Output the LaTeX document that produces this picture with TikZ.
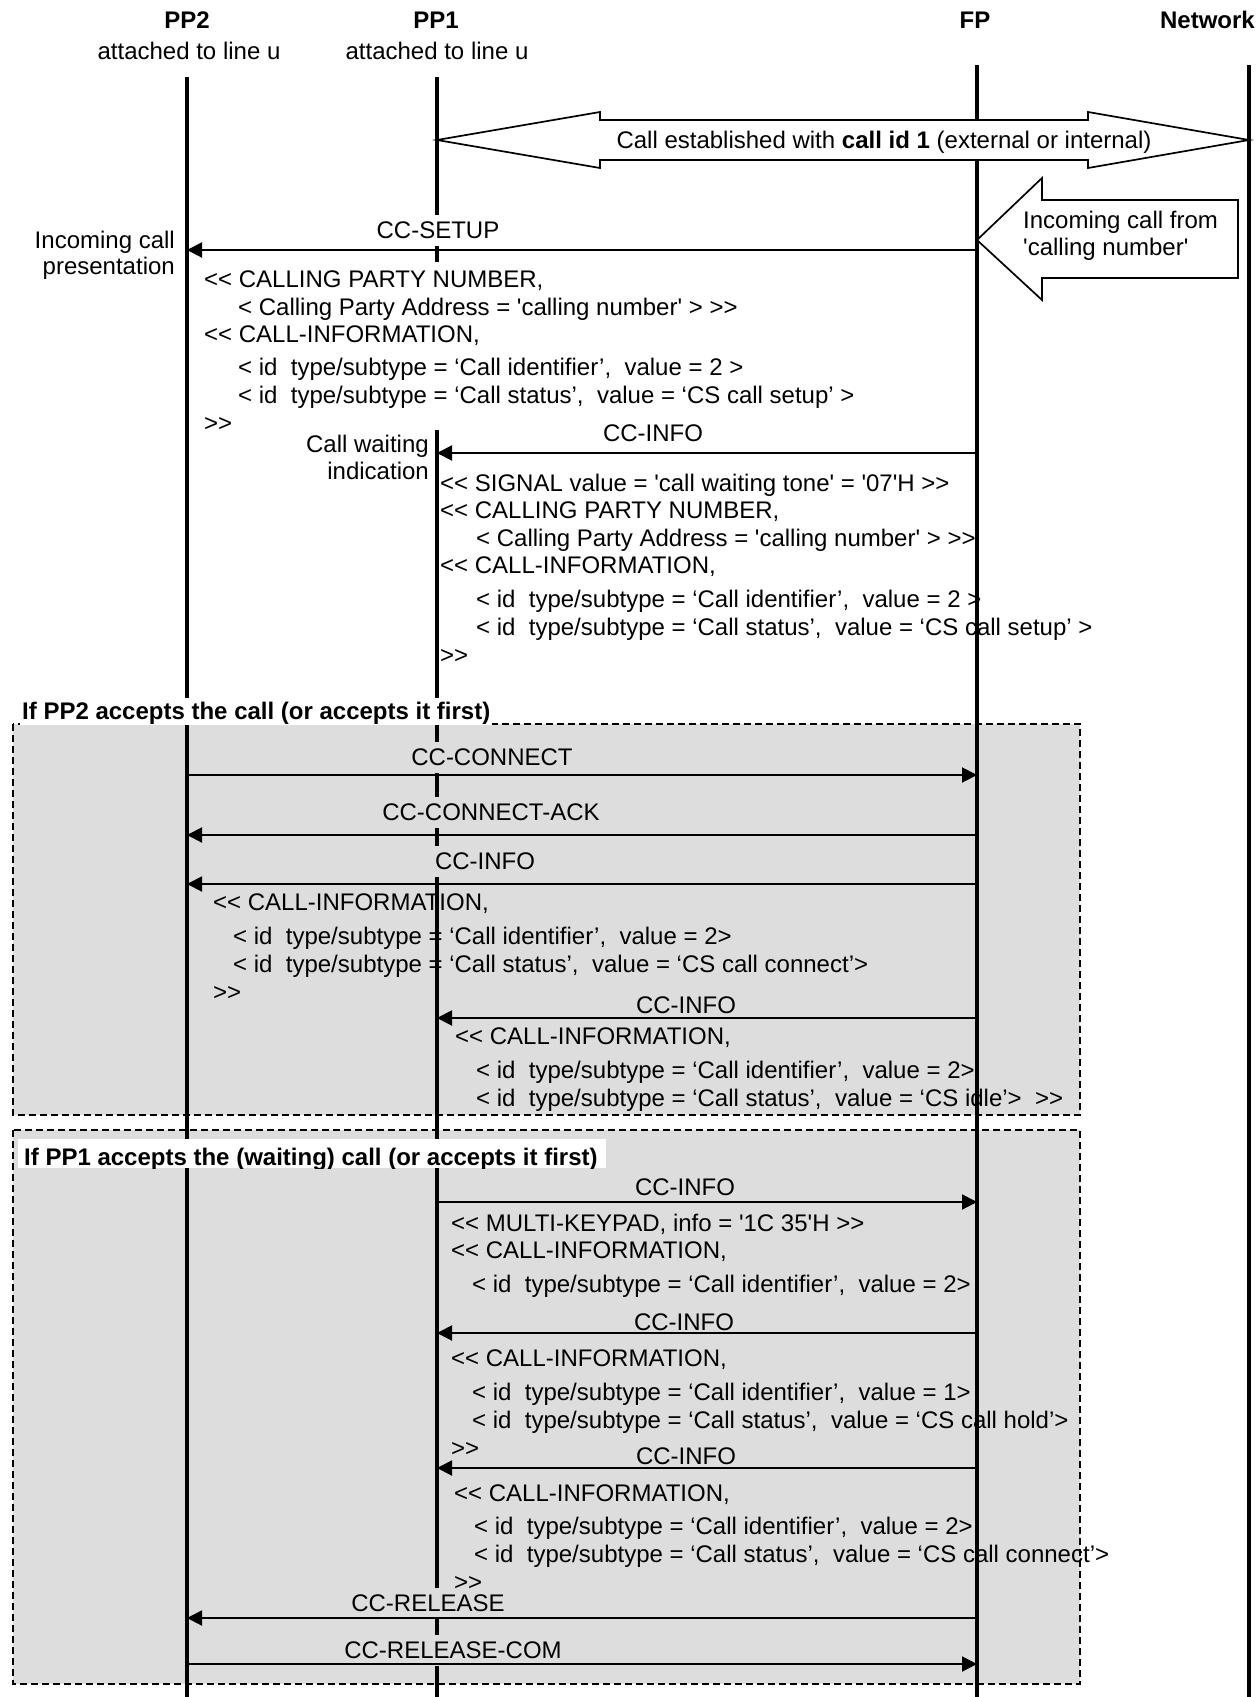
\documentclass[tikz,border=0pt]{standalone}
\usepackage{fontspec}
\setmainfont{Liberation Sans}[Ligatures=TeXOff]
\usetikzlibrary{arrows.meta}
\definecolor{boxgray}{RGB}{221,221,221}
\begin{document}
\begin{tikzpicture}[x=1pt,y=-1pt,
  every node/.style={font=\fontsize{24}{28}\selectfont, inner sep=0pt, text height=17pt, text depth=0pt},
  life/.style={line width=3.3pt},
  msg/.style={line width=2pt, -{Triangle[length=15pt,width=15pt]}},
  hdr/.style={font=\fontsize{24}{28}\selectfont\bfseries},
  txt/.style={anchor=west},
  rtxt/.style={anchor=east},
  lblw/.style={fill=white, inner xsep=8pt, inner ysep=7pt},
  lblg/.style={fill=boxgray, inner xsep=8pt, inner ysep=7pt},
  grp/.style={fill=boxgray, draw=black, line width=1.5pt, dash pattern=on 7pt off 4pt},
  fat/.style={fill=white, draw=black, line width=1.7pt, line join=miter}
]
% canvas
\fill[white] (0,0) rectangle (1258,1697);
\useasboundingbox (0,0) rectangle (1258,1697);

% group boxes
\draw[grp] (13,724) rectangle (1080,1115);
\draw[grp] (13,1130) rectangle (1080,1684);

% lifeline anchors
\coordinate (L2) at (187,77);
\coordinate (L1) at (437,77);
\coordinate (LF) at (977,65);
\coordinate (LN) at (1249,65);
\coordinate (B2) at (187,1697);
\coordinate (B1) at (437,1697);
\coordinate (BF) at (977,1697);
\coordinate (BN) at (1249,1697);
\draw[life] (L2) -- (B2);
\draw[life] (L1) -- (B1);
\draw[life] (LF) -- (BF);
\draw[life] (LN) -- (BN);

% headers
\node[hdr] (h2) at (187,20) {PP2};
\node (a2) at (189,51) {attached to line u};
\node[hdr] (h1) at (436,20) {PP1};
\node (a1) at (437,51) {attached to line u};
\node[hdr] (hf) at (975,20) {FP};
\node[hdr,anchor=east] (hn) at (1255,20) {Network};

% call established double arrow
\draw[fat] (L1 |- 0,140) -- (600,112) -- (600,120) -- (1088,120) -- (1088,112)
  -- (LN |- 0,140) -- (1088,168) -- (1088,160) -- (600,160) -- (600,168) -- cycle;
\node (est) at (884,140) {Call established with \textbf{call id 1} (external or internal)};

% incoming call block arrow
\draw[fat] (LF |- 0,240) -- (1042,178) -- (1042,200) -- (1238,200) -- (1238,278)
  -- (1042,278) -- (1042,300) -- cycle;
\node[txt] (inc1) at (1023,220) {Incoming call from};
\node[txt] (inc2) at (1023,247) {'calling number'};

% group labels
\node[txt,fill=white,inner xsep=2pt,inner ysep=5pt] (g1) at (20,711) {\bfseries If PP2 accepts the call (or accepts it first)};
\fill[white] (18,1139) rectangle (606,1168);
\begin{scope}
\clip (18,1139) rectangle (606,1168);
\node[txt] (g2) at (24,1157) {\bfseries If PP1 accepts the (waiting) call (or accepts it first)};
\end{scope}

% white area behind first parameter block
\fill[white] (200,262) rectangle (860,430);

% message labels
\node[lblw] (m1) at (438,230) {CC-SETUP};
\node[lblw] (m2) at (653,433) {CC-INFO};
\node[lblg] (m3) at (492,757) {CC-CONNECT};
\node[lblg] (m4) at (491,812) {CC-CONNECT-ACK};
\node[lblg] (m5) at (485,861) {CC-INFO};
\node[lblg] (m6) at (686,1005) {CC-INFO};
\node[lblg] (m7) at (685,1187) {CC-INFO};
\node[lblg] (m8) at (684,1322) {CC-INFO};
\node[lblg] (m9) at (686,1456) {CC-INFO};
\node[lblg] (m10) at (428,1603) {CC-RELEASE};
\node[lblg] (m11) at (453,1650) {CC-RELEASE-COM};

% messages
\draw[msg] (LF |- 0,250) -- (L2 |- 0,250);
\draw[msg] (LF |- 0,453) -- (L1 |- 0,453);
\draw[msg] (L2 |- 0,775) -- (LF |- 0,775);
\draw[msg] (LF |- 0,835) -- (L2 |- 0,835);
\draw[msg] (LF |- 0,884) -- (L2 |- 0,884);
\draw[msg] (LF |- 0,1018) -- (L1 |- 0,1018);
\draw[msg] (L1 |- 0,1202) -- (LF |- 0,1202);
\draw[msg] (LF |- 0,1333) -- (L1 |- 0,1333);
\draw[msg] (LF |- 0,1468) -- (L1 |- 0,1468);
\draw[msg] (LF |- 0,1618) -- (L2 |- 0,1618);
\draw[msg] (L2 |- 0,1664) -- (LF |- 0,1664);

% side notes
\node[rtxt] (n1) at (175,240) {Incoming call};
\node[rtxt] (n2) at (175,266) {presentation};
\node[rtxt] (n3) at (429,444) {Call waiting};
\node[rtxt] (n4) at (429,471) {indication};

% parameter block 1
\node[txt] (b1a) at (204,279) {<< CALLING PARTY NUMBER,};
\node[txt] (b1b) at (238,307) {< Calling Party Address = 'calling number' > >>};
\node[txt] (b1c) at (204,334) {<< CALL-INFORMATION,};
\node[txt] (b1d) at (238,367) {< id\ \ type/subtype = ‘Call identifier’,\ \ value = 2 >};
\node[txt] (b1e) at (238,395) {< id\ \ type/subtype = ‘Call status’,\ \ value = ‘CS call setup’ >};
\node[txt] (b1f) at (204,423) {>>};

% parameter block 2
\node[txt] (b2a) at (440,483) {<< SIGNAL value = 'call waiting tone' = '07'H >>};
\node[txt] (b2b) at (440,510) {<< CALLING PARTY NUMBER,};
\node[txt] (b2c) at (476,538) {< Calling Party Address = 'calling number' > >>};
\node[txt] (b2d) at (440,565) {<< CALL-INFORMATION,};
\node[txt] (b2e) at (476,599) {< id\ \ type/subtype = ‘Call identifier’,\ \ value = 2 >};
\node[txt] (b2f) at (476,627) {< id\ \ type/subtype = ‘Call status’,\ \ value = ‘CS call setup’ >};
\node[txt] (b2g) at (440,655) {>>};

% group 1 parameters
\node[txt] (c1a) at (213,902) {<< CALL-INFORMATION,};
\node[txt] (c1b) at (233,936) {< id\ \ type/subtype = ‘Call identifier’,\ \ value = 2>};
\node[txt] (c1c) at (233,964) {< id\ \ type/subtype = ‘Call status’,\ \ value = ‘CS call connect’>};
\node[txt] (c1d) at (213,992) {>>};
\node[txt] (c2a) at (455,1036) {<< CALL-INFORMATION,};
\node[txt] (c2b) at (476,1070) {< id\ \ type/subtype = ‘Call identifier’,\ \ value = 2>};
\node[txt] (c2c) at (476,1098) {< id\ \ type/subtype = ‘Call status’,\ \ value = ‘CS idle’>\ \ >>};

% group 2 parameters
\node[txt] (d1a) at (451,1223) {<< MULTI-KEYPAD, info = '1C 35'H >>};
\node[txt] (d1b) at (451,1250) {<< CALL-INFORMATION,};
\node[txt] (d1c) at (472,1284) {< id\ \ type/subtype = ‘Call identifier’,\ \ value = 2>};
\node[txt] (d2a) at (451,1358) {<< CALL-INFORMATION,};
\node[txt] (d2b) at (472,1392) {< id\ \ type/subtype = ‘Call identifier’,\ \ value = 1>};
\node[txt] (d2c) at (472,1420) {< id\ \ type/subtype = ‘Call status’,\ \ value = ‘CS call hold’>};
\node[txt] (d2d) at (451,1448) {>>};
\node[txt] (d3a) at (454,1493) {<< CALL-INFORMATION,};
\node[txt] (d3b) at (474,1526) {< id\ \ type/subtype = ‘Call identifier’,\ \ value = 2>};
\node[txt] (d3c) at (474,1554) {< id\ \ type/subtype = ‘Call status’,\ \ value = ‘CS call connect’>};
\node[txt] (d3d) at (454,1582) {>>};
\end{tikzpicture}
\end{document}
